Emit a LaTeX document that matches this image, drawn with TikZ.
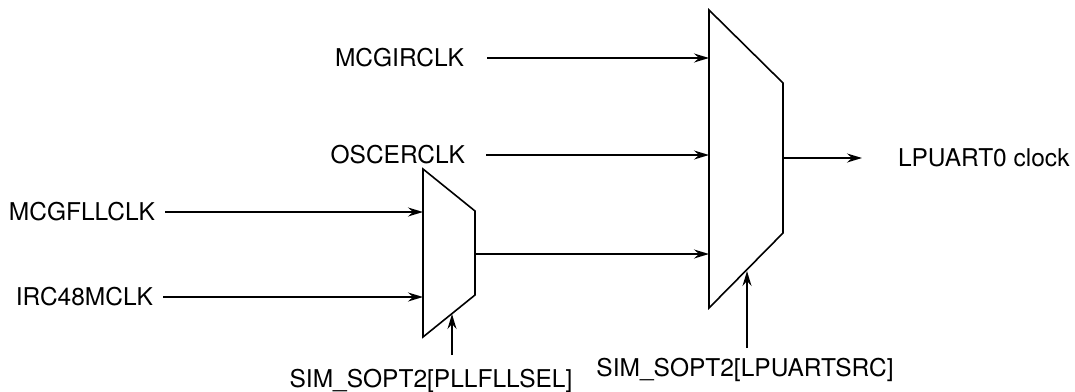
\documentclass[tikz,border=0pt]{standalone}
\usepackage{fontspec}
\setmainfont{TeX Gyre Heros}
\usetikzlibrary{arrows.meta,positioning}

\begin{document}
\begin{tikzpicture}[
    x=1pt,y=-1pt,
    mux/.style={draw=black,line width=1.6pt,line join=miter,fill=white},
    arr/.style={-{Stealth[length=15pt,width=9pt,inset=5pt]},line width=1.6pt},
    lbl/.style={font=\fontsize{24.5}{28}\selectfont,inner sep=0pt,outer xsep=10pt}
  ]
    \useasboundingbox (0,0) rectangle (1075,391);

    % small mux: FLL / IRC48M select
    \draw[mux] (423,169) -- (475,211) -- (475,295) -- (423,337) -- cycle;
    \coordinate (sin1) at (423,212);
    \coordinate (sin2) at (423,297);
    \coordinate (sout) at (475,254);
    \coordinate (ssel) at (452,314);

    % big mux: LPUART0 clock source
    \draw[mux] (709,10) -- (783,83) -- (783,233) -- (709,308) -- cycle;
    \coordinate (bin1) at (709,58);
    \coordinate (bin2) at (709,155);
    \coordinate (bin3) at (709,254);
    \coordinate (bout) at (783,158);
    \coordinate (bsel) at (747,271);

    \node[lbl,outer xsep=23pt,left=222pt of bin1] (mcgir) {MCGIRCLK};
    \node[lbl,outer xsep=21pt,left=223pt of bin2] (oscer) {OSCERCLK};
    \node[lbl,left=258pt of sin1] (mcgfll) {MCGFLLCLK};
    \node[lbl,left=260pt of sin2] (irc48) {IRC48MCLK};
    \node[lbl,outer xsep=36pt,right=79pt of bout] (lpuart) {LPUART0 clock};

    \node[lbl,anchor=north] (pllsel) at (431,369) {SIM\_SOPT2[PLLFLLSEL]};
    \node[lbl,anchor=north] (lpsel) at (745,358) {SIM\_SOPT2[LPUARTSRC]};

    \draw[arr] (mcgir) -- (bin1);
    \draw[arr] (oscer) -- (bin2);
    \draw[arr] (mcgfll) -- (sin1);
    \draw[arr] (irc48) -- (sin2);
    \draw[arr] (sout) -- (bin3);
    \draw[arr] (bout) -- (lpuart);

    % select lines
    \draw[arr] (pllsel.north -| ssel) ++(0,-14) -- (ssel);
    \draw[arr] (lpsel.north -| bsel) ++(0,-10) -- (bsel);
  \end{tikzpicture}
\end{document}
